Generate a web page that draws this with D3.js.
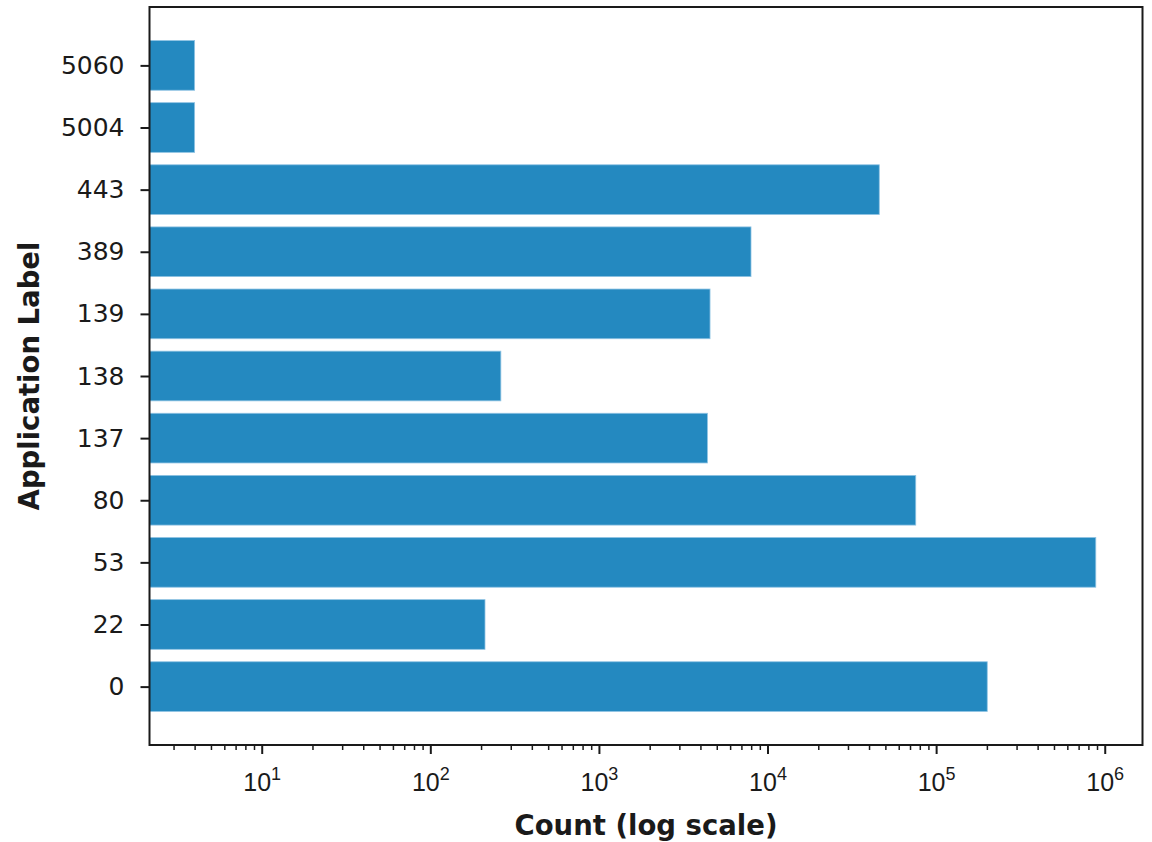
<!DOCTYPE html>
<html>
<head>
<meta charset="utf-8">
<script src="https://cdn.jsdelivr.net/npm/d3@7"></script>
<style>
  html, body { margin: 0; padding: 0; background: #ffffff; }
  svg { display: block; font-family: "DejaVu Sans", sans-serif; }
</style>
</head>
<body>
<svg id="chart" width="1152" height="842"></svg>
<script>
// Application labels (bottom to top) and their record counts
const appLabels = ["0", "22", "53", "80", "137", "138", "139", "389", "443", "5004", "5060"];
const appCounts = [201000, 211, 885000, 75700, 4400, 262, 4560, 7980, 46000, 4, 4];
// Major tick exponents on the log axis
const majorExponents = [1, 2, 3, 4, 5, 6];

const W = 1152, H = 842;
const plot = { left: 149.5, right: 1142.5, top: 7, bottom: 745 };
const barColor = "#2489c0";
const ink = "#1a1a1a";

const svg = d3.select("#chart");
svg.append("rect").attr("width", W).attr("height", H).attr("fill", "#ffffff");

const x = d3.scaleLog()
  .domain([2.16, 1.675e6])
  .range([plot.left, plot.right]);

// categorical positions with matplotlib-like margins around bars of height 0.8
const pad = 0.94;
const y = d3.scaleLinear()
  .domain([-pad, appLabels.length - 1 + pad])
  .range([plot.bottom, plot.top]);
const barH = y(0) - y(0.8);

const rows = appLabels.map((label, i) => ({ label, count: appCounts[i], i }));

// bars
svg.append("g")
  .selectAll("rect")
  .data(rows)
  .join("rect")
  .attr("x", x.range()[0])
  .attr("y", d => y(d.i) - barH / 2)
  .attr("width", d => x(d.count) - x.range()[0])
  .attr("height", barH)
  .attr("fill", barColor)
  .attr("stroke", "#8fc3e3")
  .attr("stroke-width", 0.8);

// x axis: minor ticks
const [d0, d1] = x.domain();
const minorTicks = [];
for (let e = 0; e <= 6; e++) {
  for (let m = 2; m <= 9; m++) {
    const v = m * Math.pow(10, e);
    if (v >= d0 && v <= d1) minorTicks.push(v);
  }
}
const minorAxis = svg.append("g")
  .attr("transform", `translate(0,${plot.bottom})`)
  .call(d3.axisBottom(x).tickValues(minorTicks).tickSize(5).tickFormat(""));
minorAxis.select(".domain").remove();
minorAxis.selectAll("line").attr("stroke", ink).attr("stroke-width", 1.5);

// x axis: major ticks with superscript labels
const majorValues = majorExponents.map(e => Math.pow(10, e));
const majorAxis = svg.append("g")
  .attr("transform", `translate(0,${plot.bottom})`)
  .call(d3.axisBottom(x).tickValues(majorValues).tickSize(9).tickFormat(""));
majorAxis.select(".domain").remove();
majorAxis.selectAll("line").attr("stroke", ink).attr("stroke-width", 2);
majorAxis.selectAll(".tick").each(function (d) {
  const t = d3.select(this).append("text")
    .attr("y", 46)
    .attr("text-anchor", "middle")
    .attr("fill", ink)
    .attr("font-size", 25);
  t.append("tspan").text("10");
  t.append("tspan")
    .attr("dy", -11)
    .attr("font-size", 18)
    .text(Math.round(Math.log10(d)));
});

// y axis
const yAxis = svg.append("g")
  .attr("transform", `translate(${plot.left},0)`)
  .call(d3.axisLeft(y)
    .tickValues(rows.map(r => r.i))
    .tickSize(9)
    .tickPadding(16)
    .tickFormat(i => appLabels[i]));
yAxis.select(".domain").remove();
yAxis.selectAll("line").attr("stroke", ink).attr("stroke-width", 2);
yAxis.selectAll("text")
  .attr("fill", ink)
  .attr("font-size", 25)
  .attr("font-family", "DejaVu Sans, sans-serif");

// frame
svg.append("rect")
  .attr("x", plot.left)
  .attr("y", plot.top)
  .attr("width", plot.right - plot.left)
  .attr("height", plot.bottom - plot.top)
  .attr("fill", "none")
  .attr("stroke", ink)
  .attr("stroke-width", 2);

// axis titles
svg.append("text")
  .attr("x", (plot.left + plot.right) / 2)
  .attr("y", 835)
  .attr("text-anchor", "middle")
  .attr("font-size", 27.5)
  .attr("font-weight", "bold")
  .attr("fill", ink)
  .text("Count (log scale)");

svg.append("text")
  .attr("transform", `translate(39,${(plot.top + plot.bottom) / 2}) rotate(-90)`)
  .attr("text-anchor", "middle")
  .attr("font-size", 27.5)
  .attr("font-weight", "bold")
  .attr("fill", ink)
  .text("Application Label");
</script>
</body>
</html>
